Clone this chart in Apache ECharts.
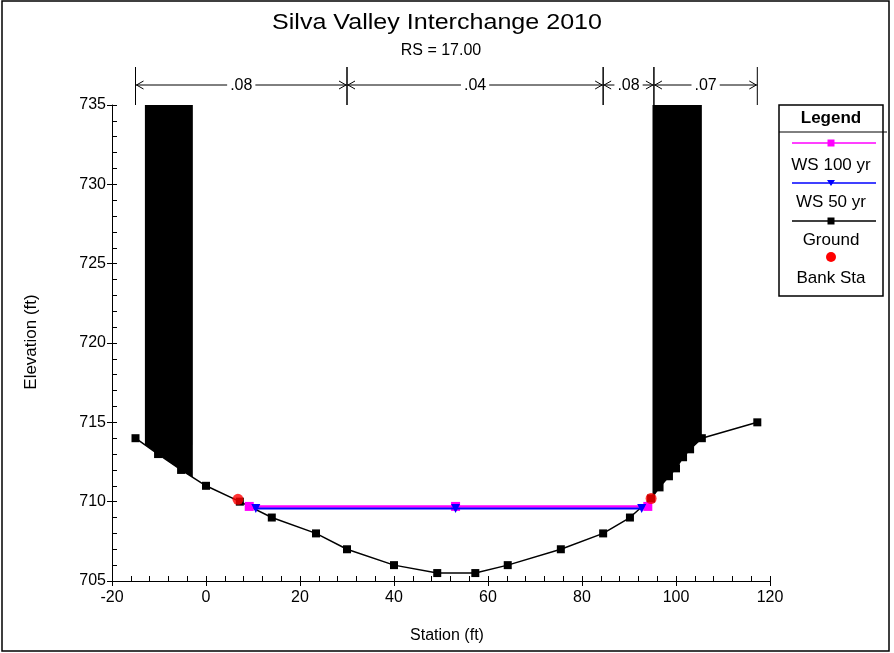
<!DOCTYPE html>
<html>
<head>
<meta charset="utf-8">
<title>Silva Valley Interchange 2010</title>
<script src="https://cdn.jsdelivr.net/npm/echarts@6/dist/echarts.min.js"></script>
<style>
  html, body { margin: 0; padding: 0; background: #fff; }
  #chart { width: 894px; height: 653px; }
</style>
</head>
<body>
<div id="chart"></div>
<script>
// Cross section RS = 17.00 : ground profile, water surfaces, bank stations
const groundStation = [-15, -10.2, -5.3, 0, 7.2, 14, 23.4, 30, 40, 49.2, 57.3, 64.2, 75.5, 84.5, 90.2, 94.7, 96.5, 98.5, 100, 101.5, 103, 105.5, 117.3];
const groundElev    = [714, 713, 712, 711, 710, 709, 708, 707, 706, 705.5, 705.5, 706, 707, 708, 709, 710.2, 710.9, 711.6, 712.1, 712.8, 713.3, 714, 715];

const ws100Station = [9.2, 53.1, 94.0];
const ws100Elev    = [709.7, 709.7, 709.7];
const ws50Station  = [10.6, 53.1, 92.7];
const ws50Elev     = [709.57, 709.57, 709.57];

const bankStation = [6.8, 94.7];
const bankElev    = [710.15, 710.2];

// blocked obstructions (left / right)
const blockStart = [-13, 95];
const blockEnd   = [-2.8, 105.5];
const blockElev  = [735, 735];

// Manning's n regions along the top
const nBreaks = [-15, 30, 84.5, 95.3, 117.3];
const nValues = ['.08', '.04', '.08', '.07'];

const seriesNames = ['WS 100 yr', 'WS 50 yr', 'Ground', 'Bank Sta'];

const xTicks = { min: -20, max: 120, interval: 20 };
const yTicks = { min: 705, max: 735, interval: 5 };

const FONT = "'Liberation Sans', Arial, sans-serif";

function zip(a, b) { return a.map((v, i) => [v, b[i]]); }

function groundAt(x) {
  for (let i = 0; i < groundStation.length - 1; i++) {
    const x0 = groundStation[i], x1 = groundStation[i + 1];
    if (x >= x0 && x <= x1) {
      const t = (x - x0) / (x1 - x0);
      return groundElev[i] + t * (groundElev[i + 1] - groundElev[i]);
    }
  }
  return x < groundStation[0] ? groundElev[0] : groundElev[groundElev.length - 1];
}

const chart = echarts.init(document.getElementById('chart'), null, { renderer: 'canvas' });

const axisLineStyle = { color: '#000', width: 1 };

// legend box drawn as graphic elements
const legendX = 779, legendW = 104, legendTop = 105, legendBottom = 296;
const legendCx = legendX + legendW / 2;
const legendItems = [
  { name: seriesNames[0], color: '#ff00ff', symbol: 'rect', lineY: 143, textY: 165 },
  { name: seriesNames[1], color: '#0000ff', symbol: 'tri', lineY: 183, textY: 202 },
  { name: seriesNames[2], color: '#000000', symbol: 'rect', lineY: 221, textY: 240 },
  { name: seriesNames[3], color: '#ff0000', symbol: 'dot', lineY: 257, textY: 278 }
];
const legendGraphics = [
  { type: 'rect', shape: { x: legendX, y: legendTop, width: legendW, height: legendBottom - legendTop },
    style: { fill: '#fff', stroke: '#000', lineWidth: 1.5 }, z: 10 },
  { type: 'line', shape: { x1: legendX, y1: 132, x2: legendX + 108, y2: 132 },
    style: { stroke: '#000', lineWidth: 1 }, z: 11 },
  { type: 'text', x: legendCx, y: 118, z: 11,
    style: { text: 'Legend', font: 'bold 17px ' + FONT, fill: '#000', align: 'center', verticalAlign: 'middle' } }
];
legendItems.forEach(it => {
  if (it.symbol !== 'dot') {
    legendGraphics.push({ type: 'line', z: 11, shape: { x1: 792, y1: it.lineY, x2: 876, y2: it.lineY },
      style: { stroke: it.color, lineWidth: 1.5 } });
  }
  if (it.symbol === 'rect') {
    legendGraphics.push({ type: 'rect', z: 12, shape: { x: legendCx - 3.5, y: it.lineY - 3.5, width: 7, height: 7 },
      style: { fill: it.color } });
  } else if (it.symbol === 'tri') {
    legendGraphics.push({ type: 'polygon', z: 12,
      shape: { points: [[legendCx - 4, it.lineY - 3], [legendCx + 4, it.lineY - 3], [legendCx, it.lineY + 3]] },
      style: { fill: it.color } });
  } else {
    legendGraphics.push({ type: 'circle', z: 12, shape: { cx: legendCx, cy: it.lineY, r: 5 },
      style: { fill: it.color } });
  }
  legendGraphics.push({ type: 'text', x: legendCx, y: it.textY, z: 11,
    style: { text: it.name, font: '17px ' + FONT, fill: '#000', align: 'center', verticalAlign: 'middle' } });
});

const option = {
  animation: false,
  backgroundColor: '#fff',
  grid: { left: 112, right: 124, top: 105, bottom: 72, containLabel: false },
  xAxis: [
    {
      type: 'value', position: 'bottom', min: xTicks.min, max: xTicks.max, interval: xTicks.interval,
      axisLine: { show: true, onZero: false, lineStyle: axisLineStyle },
      axisTick: { show: true, inside: true, length: 5, lineStyle: axisLineStyle },
      minorTick: { show: true, splitNumber: 5, length: 5, lineStyle: axisLineStyle },
      axisLabel: { show: false },
      splitLine: { show: false }
    },
    {
      type: 'value', position: 'bottom', min: xTicks.min, max: xTicks.max, interval: xTicks.interval,
      axisLine: { show: false, onZero: false },
      axisTick: { show: true, inside: false, length: 5, lineStyle: axisLineStyle },
      axisLabel: { show: true, margin: 9, color: '#000', fontSize: 16, fontFamily: FONT },
      splitLine: { show: false }
    }
  ],
  yAxis: [
    {
      type: 'value', position: 'left', min: yTicks.min, max: yTicks.max, interval: yTicks.interval,
      axisLine: { show: true, onZero: false, lineStyle: axisLineStyle },
      axisTick: { show: true, inside: true, length: 5, lineStyle: axisLineStyle },
      minorTick: { show: true, splitNumber: 5, length: 5, lineStyle: axisLineStyle },
      axisLabel: { show: false },
      splitLine: { show: false }
    },
    {
      type: 'value', position: 'left', min: yTicks.min, max: yTicks.max, interval: yTicks.interval,
      axisLine: { show: false, onZero: false },
      axisTick: { show: true, inside: false, length: 5, lineStyle: axisLineStyle },
      axisLabel: { show: true, margin: 6, color: '#000', fontSize: 16, fontFamily: FONT },
      splitLine: { show: false }
    }
  ],
  graphic: [
    { type: 'rect', shape: { x: 2, y: 1, width: 887, height: 650 },
      style: { fill: null, stroke: '#000', lineWidth: 1.5 }, z: 0, silent: true },
    { type: 'text', x: 437, y: 23, scaleX: 1.14,
      style: { text: 'Silva Valley Interchange 2010', font: '22px ' + FONT, fill: '#000', align: 'center', verticalAlign: 'middle' } },
    { type: 'text', x: 441, y: 51,
      style: { text: 'RS = 17.00', font: '16px ' + FONT, fill: '#000', align: 'center', verticalAlign: 'middle' } },
    { type: 'text', x: 447, y: 636,
      style: { text: 'Station (ft)', font: '16px ' + FONT, fill: '#000', align: 'center', verticalAlign: 'middle' } },
    { type: 'text', x: 31, y: 342, rotation: Math.PI / 2,
      style: { text: 'Elevation (ft)', font: '17px ' + FONT, fill: '#000', align: 'center', verticalAlign: 'middle' } }
  ].concat(legendGraphics),
  series: [
    {
      // blocked obstructions: filled from ground up to the obstruction elevation
      type: 'custom', name: 'Obstructions', xAxisIndex: 0, yAxisIndex: 0, z: 1,
      encode: { x: [0, 1], y: 2 },
      data: blockStart.map((s, i) => [s, blockEnd[i], blockElev[i]]),
      renderItem: function (params, api) {
        const xs = api.value(0), xe = api.value(1), top = api.value(2);
        const pts = [api.coord([xs, top]), api.coord([xe, top]), api.coord([xe, groundAt(xe)])];
        for (let i = groundStation.length - 1; i >= 0; i--) {
          if (groundStation[i] > xs && groundStation[i] < xe) pts.push(api.coord([groundStation[i], groundElev[i]]));
        }
        pts.push(api.coord([xs, groundAt(xs)]));
        return { type: 'polygon', shape: { points: pts }, style: { fill: '#000', stroke: null } };
      }
    },
    {
      // Manning's n dimension lines above the plot
      type: 'custom', name: 'n values', xAxisIndex: 0, yAxisIndex: 0, z: 5, clip: false,
      encode: { x: [0, 1] },
      data: nValues.map((v, i) => [nBreaks[i], nBreaks[i + 1]]),
      renderItem: function (params, api) {
        const i = params.dataIndex;
        const x1 = api.coord([api.value(0), 720])[0];
        const x2 = api.coord([api.value(1), 720])[0];
        const top = params.coordSys.y;
        const yl = top - 20, yb = top - 38;
        const st = { stroke: '#000', lineWidth: 1, fill: null };
        return {
          type: 'group',
          children: [
            { type: 'line', shape: { x1: x1, y1: yb, x2: x1, y2: top }, style: st },
            { type: 'line', shape: { x1: x2, y1: yb, x2: x2, y2: top }, style: st },
            { type: 'line', shape: { x1: x1, y1: yl, x2: x2, y2: yl }, style: st },
            { type: 'polyline', shape: { points: [[x1 + 8, yl - 4], [x1 + 1, yl], [x1 + 8, yl + 4]] }, style: st },
            { type: 'polyline', shape: { points: [[x2 - 8, yl - 4], [x2 - 1, yl], [x2 - 8, yl + 4]] }, style: st },
            { type: 'text', x: (x1 + x2) / 2, y: yl + 1,
              style: { text: nValues[i], font: '16px ' + FONT, fill: '#000', align: 'center', verticalAlign: 'middle',
                       backgroundColor: '#fff', padding: [0, 3] } }
          ]
        };
      }
    },
    {
      name: seriesNames[2], type: 'line', xAxisIndex: 0, yAxisIndex: 0, z: 2,
      data: zip(groundStation, groundElev),
      symbol: 'rect', symbolSize: 8, showSymbol: true,
      lineStyle: { color: '#000', width: 1.5 },
      itemStyle: { color: '#000' }
    },
    {
      name: seriesNames[0], type: 'line', xAxisIndex: 0, yAxisIndex: 0, z: 3,
      data: zip(ws100Station, ws100Elev),
      symbol: 'rect', symbolSize: 9,
      lineStyle: { color: '#ff00ff', width: 2.5 },
      itemStyle: { color: '#ff00ff' }
    },
    {
      name: seriesNames[1], type: 'line', xAxisIndex: 0, yAxisIndex: 0, z: 4,
      data: zip(ws50Station, ws50Elev),
      symbol: 'triangle', symbolRotate: 180, symbolSize: 9,
      lineStyle: { color: '#0000ff', width: 2 },
      itemStyle: { color: '#0000ff' }
    },
    {
      name: seriesNames[3], type: 'scatter', xAxisIndex: 0, yAxisIndex: 0, z: 6,
      data: zip(bankStation, bankElev),
      symbol: 'circle', symbolSize: 11,
      itemStyle: { color: '#ff0000' }
    }
  ]
};

chart.setOption(option);
</script>
</body>
</html>
